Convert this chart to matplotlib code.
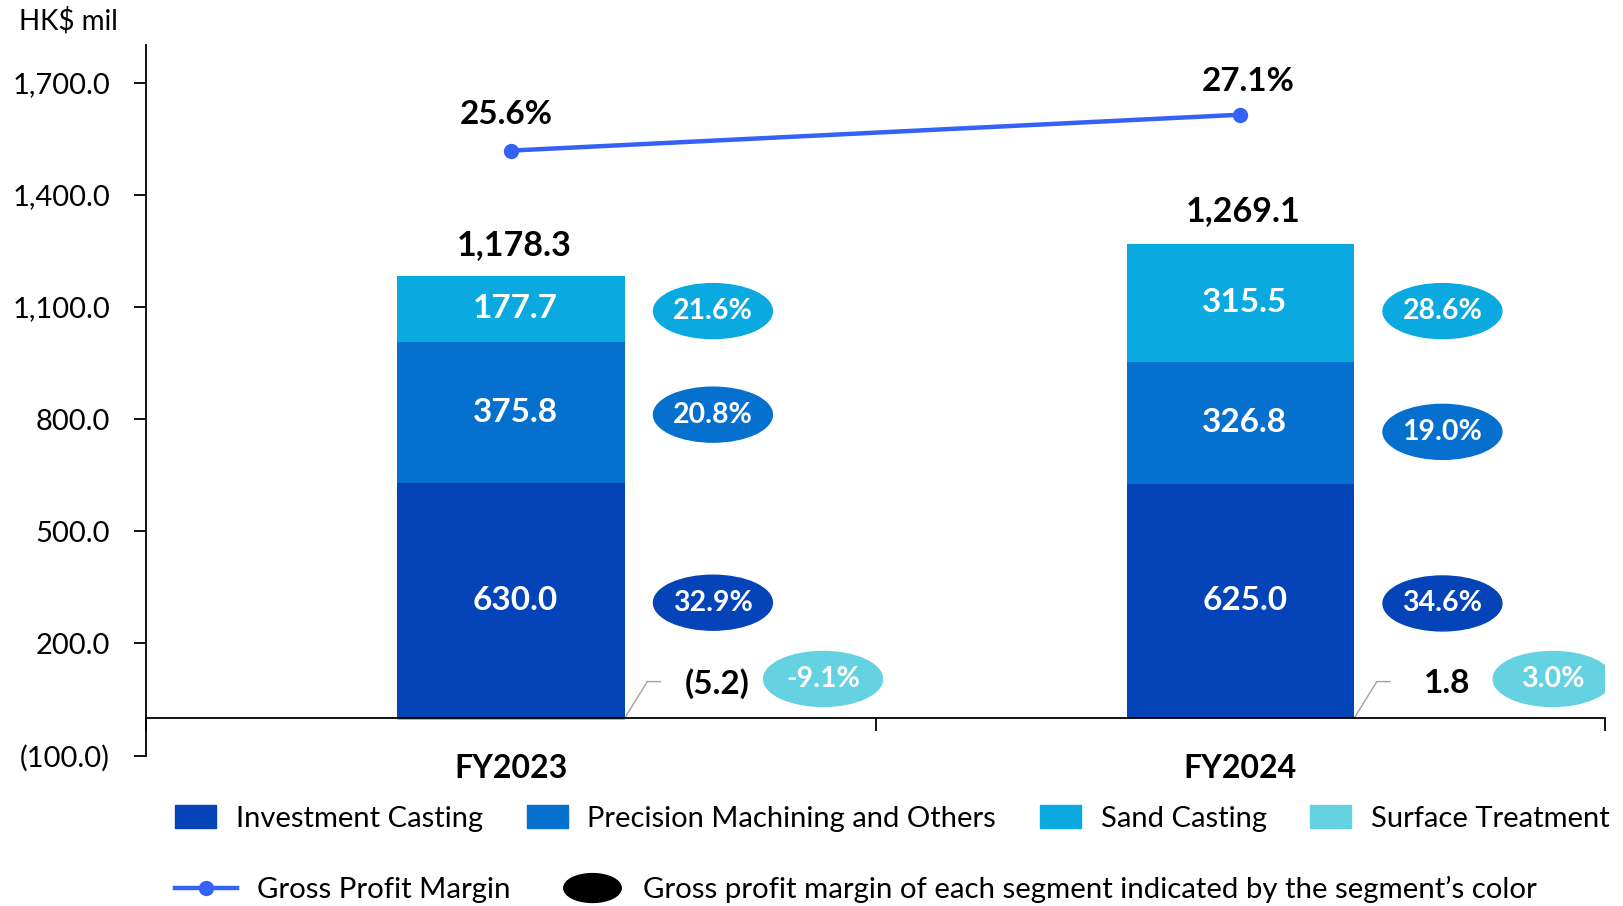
import numpy as np
import matplotlib.pyplot as plt
import matplotlib.patches as mpatches
from matplotlib.lines import Line2D
from matplotlib.legend_handler import HandlerPatch
from matplotlib.ticker import FuncFormatter

plt.rcParams['font.family'] = ['Lato', 'DejaVu Sans']

# data
years = ['FY2023', 'FY2024']
investment = [630.0, 625.0]
precision = [375.8, 326.8]
sand = [177.7, 315.5]
surface = [-5.2, 1.8]
totals = [1178.3, 1269.1]
gpm = [25.6, 27.1]
gpm_investment = [32.9, 34.6]
gpm_precision = [20.8, 19.0]
gpm_sand = [21.6, 28.6]
gpm_surface = [-9.1, 3.0]

c_inv = '#0444B8'
c_pre = '#0670CF'
c_san = '#0AA9E0'
c_sur = '#64D2E0'
c_line = '#3461F6'

# where the margin bubbles sit (y in HK$ mil)
bubble_y_inv = [309, 307]
bubble_y_pre = [812, 766]
bubble_y_san = [1089, 1089]
bubble_y_sur = [105, 105]


def fmt_num(v):
    return f'({abs(v):,.1f})' if v < 0 else f'{v:,.1f}'


fig = plt.figure(figsize=(16.23, 9.06), dpi=100)
ax = fig.add_axes([0.090, 0.166, 0.899, 0.784])

x = np.arange(len(years))
w = 0.312

base = np.maximum(surface, 0)
ax.bar(x, surface, w, color=c_sur, zorder=2)
ax.bar(x, investment, w, bottom=base, color=c_inv, zorder=2)
b2 = base + np.array(investment)
ax.bar(x, precision, w, bottom=b2, color=c_pre, zorder=2)
b3 = b2 + np.array(precision)
ax.bar(x, sand, w, bottom=b3, color=c_san, zorder=2)

for i in range(len(years)):
    xc = x[i] + 0.006
    ax.text(xc, base[i] + investment[i] / 2, fmt_num(investment[i]), color='white',
            fontsize=24, fontweight='bold', ha='center', va='center')
    ax.text(xc, b2[i] + precision[i] / 2, fmt_num(precision[i]), color='white',
            fontsize=24, fontweight='bold', ha='center', va='center')
    ax.text(xc, b3[i] + sand[i] / 2, fmt_num(sand[i]), color='white',
            fontsize=24, fontweight='bold', ha='center', va='center')
    ax.text(x[i] + 0.004, totals[i] + 88, fmt_num(totals[i]), fontsize=24.5, fontweight='bold',
            ha='center', va='center')

    # segment margin bubbles
    for val, yy, col, dx in [(gpm_investment[i], bubble_y_inv[i], c_inv, 0.277),
                             (gpm_precision[i], bubble_y_pre[i], c_pre, 0.277),
                             (gpm_sand[i], bubble_y_san[i], c_san, 0.277),
                             (gpm_surface[i], bubble_y_sur[i], c_sur, 0.428)]:
        e = mpatches.Ellipse((x[i] + dx, yy), 0.163, 147, facecolor=col,
                             edgecolor=col, lw=1, zorder=3)
        ax.add_patch(e)
        ax.text(x[i] + dx, yy, f'{val:.1f}%', color='white', fontsize=20.5,
                fontweight='bold', ha='center', va='center', zorder=4)

    # surface treatment callout
    x0 = x[i] + w / 2
    ax.plot([x0, x[i] + 0.187, x[i] + 0.205], [0, 98, 98], color='#A0A0A0', lw=1, zorder=1)
    ax.text(x[i] + 0.283, 92, fmt_num(surface[i]), fontsize=24, fontweight='bold',
            ha='center', va='center')

ax.set_xlim(-0.5, 1.5)
ax.set_ylim(-100, 1800)
ax.set_yticks([-100, 200, 500, 800, 1100, 1400, 1700])
ax.yaxis.set_major_formatter(FuncFormatter(lambda v, p: fmt_num(v)))
ax.tick_params(axis='y', labelsize=21, length=9, width=1.3, pad=17)

ax.spines['top'].set_visible(False)
ax.spines['right'].set_visible(False)
ax.spines['left'].set_linewidth(1.3)
ax.spines['bottom'].set_position(('data', 0))
ax.spines['bottom'].set_linewidth(1.3)
ax.spines['bottom'].set_zorder(3)
ax.set_xticks(x)
ax.set_xticklabels(years, fontsize=23, fontweight='bold')
ax.set_xticks([-0.5, 0.5, 1.5], minor=True)
ax.tick_params(axis='x', which='major', length=0, pad=26)
ax.tick_params(axis='x', which='minor', length=9, width=1.3)

# gross profit margin on a hidden secondary scale
ax2 = ax.twinx()
ax2.set_ylim(0.319, 30.0)
ax2.axis('off')
ax2.plot(x, gpm, color=c_line, lw=3.2, marker='o', markersize=10, zorder=5)
ax2.annotate(f'{gpm[0]:.1f}%', (x[0], gpm[0]), xytext=(-5, 36), textcoords='offset pixels',
             fontsize=24, fontweight='bold', ha='center', va='center')
ax2.annotate(f'{gpm[1]:.1f}%', (x[1], gpm[1]), xytext=(8, 33), textcoords='offset pixels',
             fontsize=24, fontweight='bold', ha='center', va='center')

fig.text(0.042, 0.977, 'HK$ mil', fontsize=20, ha='center', va='center')

# legends
h1 = [mpatches.Patch(color=c_inv, label='Investment Casting'),
      mpatches.Patch(color=c_pre, label='Precision Machining and Others'),
      mpatches.Patch(color=c_san, label='Sand Casting'),
      mpatches.Patch(color=c_sur, label='Surface Treatment')]
leg1 = fig.legend(handles=h1, loc='center left', bbox_to_anchor=(0.108, 0.097), ncol=4,
                  frameon=False, fontsize=21, handlelength=1.40, handleheight=0.86,
                  handletextpad=0.68, columnspacing=1.50, borderpad=0, borderaxespad=0)


def ellipse_handle(legend, orig_handle, xdescent, ydescent, width, height, fontsize):
    return mpatches.Ellipse((width / 2 - xdescent, height / 2 - ydescent), width * 0.93, height * 1.4)


ell = mpatches.Ellipse((0, 0), 1, 1, color='black', label="Gross profit margin of each segment indicated by the segment\u2019s color")
gl = Line2D([], [], color=c_line, lw=3.2, marker='o', markersize=10, label='Gross Profit Margin')
leg2 = fig.legend(handles=[gl, ell], loc='center left', bbox_to_anchor=(0.108, 0.018), ncol=2,
                  frameon=False, fontsize=21.2, handlelength=2.1, handletextpad=0.66,
                  columnspacing=1.75, borderpad=0, borderaxespad=0,
                  handler_map={mpatches.Ellipse: HandlerPatch(patch_func=ellipse_handle)})

fig.savefig('out.png', dpi=100)
